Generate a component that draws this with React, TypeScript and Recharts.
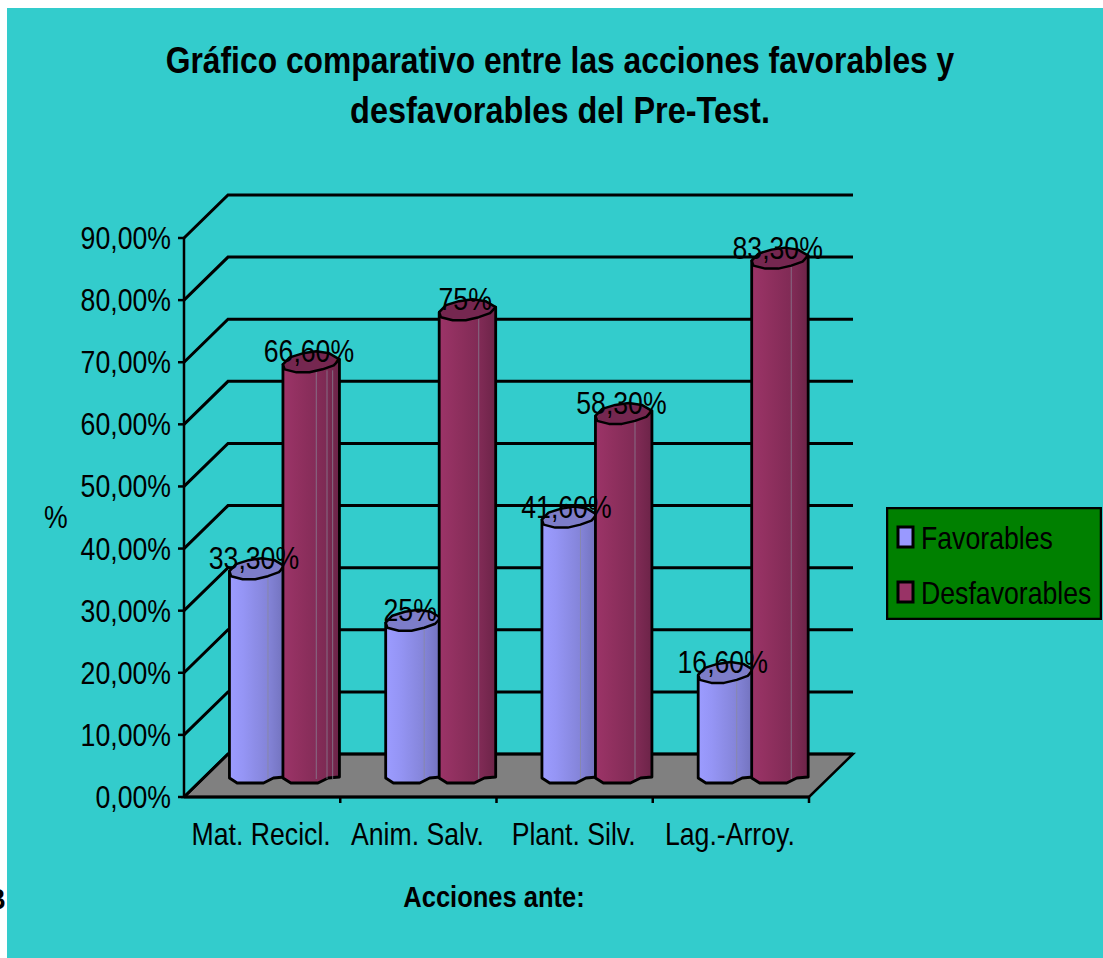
import { Bar, BarChart, CartesianGrid, LabelList, Legend, XAxis, YAxis } from "recharts";

const categories = ["Mat. Recicl.", "Anim. Salv.", "Plant. Silv.", "Lag.-Arroy."];
const favorables = [33.3, 25, 41.6, 16.6];
const desfavorables = [66.6, 75, 58.3, 83.3];
const yTicks = [0, 10, 20, 30, 40, 50, 60, 70, 80, 90];

const chartData = categories.map((name, i) => ({
  name,
  favorables: favorables[i],
  desfavorables: desfavorables[i],
}));

const WIDTH = 1103;
const HEIGHT = 958;
const PLOT_W = 625;
const DEPTH_X = 44;
const DEPTH_Y = 43;
const BAR_DX = 22;
const BAR_DY = 21;
const FONT = "'Liberation Sans', Arial, sans-serif";

// outline of the top of the "cylinder": fraction of bar width, px offset
const CAP = [
  [0, 2], [0.03, 7], [0.24, 10], [0.47, 10], [0.7, 7], [0.9, 3],
  [1, -3], [0.82, -9], [0.59, -11], [0.35, -9], [0.12, -5],
];
const FOOT = [[0, 2], [0.14, 7], [0.62, 7], [0.8, 2], [1, 1]];

function Squish({ x, y, size = 31, bold = false, anchor = "start", sx = 0.86, children }: any) {
  return (
    <text
      transform={`translate(${x},${y}) scale(${sx},1)`}
      fontFamily={FONT}
      fontSize={size}
      fontWeight={bold ? 700 : 400}
      textAnchor={anchor}
      fill="#000"
    >
      {children}
    </text>
  );
}

const tickPct = (v: number) => `${v.toFixed(2).replace(".", ",")}%`;
const labelPct = (v: number) =>
  Number.isInteger(v) ? `${v}%` : `${v.toFixed(2).replace(".", ",")}%`;

function GridLine(props: any) {
  const { x1, y1, x2, index } = props;
  const xBack = x1 + DEPTH_X;
  const yBack = y1 - DEPTH_Y;
  const isFloor = Math.abs(y1 - 797) < 1;
  return (
    <g key={`grid-${index}`}>
      {isFloor && (
        <polygon
          points={`${x1},${y1} ${x2},${y1} ${x2 + DEPTH_X},${yBack} ${xBack},${yBack}`}
          fill="#808080"
          stroke="#000"
          strokeWidth={2.5}
        />
      )}
      <polyline
        points={`${x1},${y1} ${xBack},${yBack} ${x2 + DEPTH_X},${yBack}`}
        fill="none"
        stroke="#000"
        strokeWidth={3}
      />
    </g>
  );
}

function Cylinder(props: any) {
  const { x, y, width, height, index, gradient, capFill, widen } = props;
  const left = x + BAR_DX - widen;
  const w = width + widen;
  const top = y - BAR_DY;
  const base = y + height - BAR_DY;
  const capPts = CAP.map(([f, d]) => `${left + f * w},${top + d}`).join(" ");
  const footPts = FOOT.map(([f, d]) => `${left + f * w},${base + d}`);
  const body = [`${left},${top + 2}`, ...footPts, `${left + w},${top - 3}`].join(" ");
  const seams = index === 0 && widen > 0 ? [0.59, 0.78, 0.88] : [0.7];
  return (
    <g>
      <polygon points={body} fill={`url(#${gradient})`} stroke="#000" strokeWidth={2.8} strokeLinejoin="round" />
      {seams.map((f) => (
        <line
          key={f}
          x1={left + f * w}
          x2={left + f * w}
          y1={top + 8}
          y2={base + 3}
          stroke="#8a8a9a"
          strokeWidth={1}
          opacity={0.7}
        />
      ))}
      <polygon points={capPts} fill={capFill} stroke="#000" strokeWidth={2.5} strokeLinejoin="round" />
    </g>
  );
}

function BarLabel(props: any) {
  const { x, y, width, value } = props;
  return (
    <Squish x={x + BAR_DX + width / 2 - 3} y={y - BAR_DY} anchor="middle">
      {labelPct(Number(value))}
    </Squish>
  );
}

function YTick(props: any) {
  const { x, y, payload } = props;
  return (
    <g>
      <line x1={178} x2={184} y1={y} y2={y} stroke="#000" strokeWidth={2.5} />
      <Squish x={x - 7} y={y + 11} anchor="end">
        {tickPct(payload.value)}
      </Squish>
    </g>
  );
}

function XTick(props: any) {
  const { x, y, payload } = props;
  const edge = x + PLOT_W / categories.length / 2;
  return (
    <g>
      <line x1={edge} x2={edge} y1={797} y2={803} stroke="#000" strokeWidth={2.5} />
      <Squish x={x - 1} y={y + 40} anchor="middle">
        {payload.value}
      </Squish>
    </g>
  );
}

function LegendBox() {
  return (
    <svg width={216} height={113} style={{ display: "block" }}>
      <rect x={1} y={1} width={214} height={111} fill="#008000" stroke="#000" strokeWidth={2.5} />
      <rect x={12} y={20} width={15} height={20} fill="#9999ff" stroke="#000" strokeWidth={3} />
      <rect x={12} y={75} width={15} height={20} fill="#993366" stroke="#000" strokeWidth={3} />
      <Squish x={35} y={42}>Favorables</Squish>
      <Squish x={35} y={97}>Desfavorables</Squish>
    </svg>
  );
}

export default function App() {
  return (
    <div style={{ position: "absolute", left: 0, top: 0, width: WIDTH, height: HEIGHT, overflow: "hidden", background: "#fff" }}>
      <div style={{ position: "absolute", left: 7, top: 8, width: WIDTH - 7, height: HEIGHT - 8, background: "#33cccc" }} />
      <div style={{ position: "absolute", left: 0, top: 0 }}>
        <BarChart
          width={WIDTH}
          height={HEIGHT}
          data={chartData}
          margin={{ top: 238, right: 78, bottom: 101, left: 0 }}
          barCategoryGap="15%"
          barGap={0}
        >
          <defs>
            <linearGradient id="favFill" x1="0" x2="1" y1="0" y2="0">
              <stop offset="0" stopColor="#9c9cff" />
              <stop offset="0.25" stopColor="#9595f5" />
              <stop offset="0.7" stopColor="#8484d8" />
              <stop offset="1" stopColor="#7272bd" />
            </linearGradient>
            <linearGradient id="desFill" x1="0" x2="1" y1="0" y2="0">
              <stop offset="0" stopColor="#9c3468" />
              <stop offset="0.3" stopColor="#90305f" />
              <stop offset="0.75" stopColor="#7e2a54" />
              <stop offset="1" stopColor="#6c2448" />
            </linearGradient>
          </defs>
          <CartesianGrid vertical={false} horizontal={GridLine as any} />
          <XAxis
            dataKey="name"
            tick={<XTick />}
            tickLine={false}
            axisLine={{ stroke: "#000", strokeWidth: 3 }}
            interval={0}
            height={60}
          />
          <YAxis
            domain={[0, 90]}
            ticks={yTicks}
            interval={0}
            tick={<YTick />}
            tickLine={false}
            tickMargin={0}
            axisLine={{ stroke: "#000", strokeWidth: 2.5 }}
            width={184}
          />
          <Legend
            layout="vertical"
            align="right"
            verticalAlign="middle"
            width={216}
            content={<LegendBox />}
            wrapperStyle={{ position: "absolute", left: 886, top: 507, width: 216, height: 113 }}
          />
          <Bar
            dataKey="favorables"
            name="Favorables"
            isAnimationActive={false}
            shape={<Cylinder gradient="favFill" capFill="#7d7dc9" widen={0} />}
          >
            <LabelList dataKey="favorables" content={<BarLabel />} />
          </Bar>
          <Bar
            dataKey="desfavorables"
            name="Desfavorables"
            isAnimationActive={false}
            shape={<Cylinder gradient="desFill" capFill="#752750" widen={1.5} />}
          >
            <LabelList dataKey="desfavorables" content={<BarLabel />} />
          </Bar>
          <Squish x={560} y={73} size={37} bold anchor="middle" sx={0.86}>
            Gráfico comparativo entre las acciones favorables y
          </Squish>
          <Squish x={560} y={123} size={37} bold anchor="middle" sx={0.878}>
            desfavorables del Pre-Test.
          </Squish>
          <Squish x={44} y={528}>%</Squish>
          <Squish x={494} y={907} size={30} bold anchor="middle" sx={0.85}>
            Acciones ante:
          </Squish>
          <Squish x={-13} y={909} size={30} bold>
            B
          </Squish>
        </BarChart>
      </div>
    </div>
  );
}
